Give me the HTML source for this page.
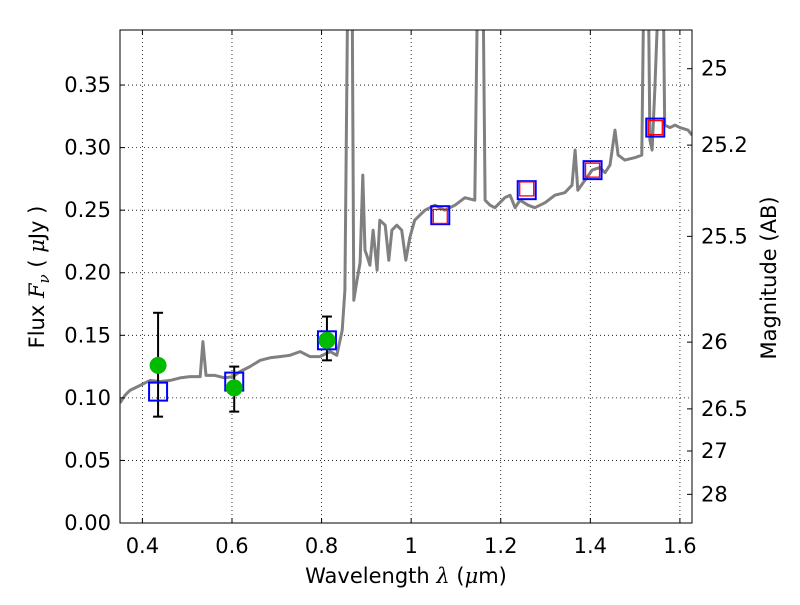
<!DOCTYPE html>
<html><head><meta charset="utf-8"><style>
body{margin:0;background:#fff}
svg text{font-family:"DejaVu Sans","Liberation Sans",sans-serif;fill:#000}
</style></head><body>
<svg id="chart" width="800" height="600" viewBox="0 0 800 600" xmlns="http://www.w3.org/2000/svg">
<rect width="800" height="600" fill="#fff"/>
<g id="grid"></g>
<g id="plot" clip-path="url(#clip)"></g>
<defs><clipPath id="clip"><rect x="120" y="30" width="572" height="493"/></clipPath></defs>
<rect x="120" y="30" width="572" height="493" fill="none" stroke="#000" stroke-width="1"/>
<g id="axes"></g>
<text x="406" y="583" font-size="21" text-anchor="middle">Wavelength  <tspan font-family="DejaVu Serif" font-style="italic">λ</tspan> (<tspan font-family="DejaVu Serif" font-style="italic">μ</tspan>m)</text>
<text transform="translate(44,277) rotate(-90)" font-size="21" text-anchor="middle">Flux  <tspan font-family="DejaVu Serif" font-style="italic">F<tspan font-size="15" dy="5">ν</tspan></tspan><tspan dy="-5">  ( </tspan><tspan font-family="DejaVu Serif" font-style="italic">μ</tspan>Jy )</text>
<text transform="translate(776,278) rotate(-90)" font-size="21" text-anchor="middle">Magnitude (AB)</text>
</svg>
<script>
const specWave=[0.350,0.361,0.372,0.395,0.417,0.439,0.462,0.484,0.506,0.529,0.535,0.542,0.562,0.584,0.602,0.618,0.640,0.663,0.685,0.707,0.729,0.752,0.774,0.796,0.819,0.834,0.846,0.852,0.859,0.868,0.872,0.879,0.886,0.892,0.897,0.901,0.908,0.915,0.924,0.930,0.942,0.950,0.957,0.968,0.979,0.988,0.997,1.008,1.031,1.053,1.075,1.098,1.120,1.142,1.149,1.160,1.165,1.176,1.187,1.209,1.221,1.232,1.243,1.261,1.276,1.299,1.321,1.343,1.359,1.366,1.372,1.388,1.404,1.421,1.433,1.444,1.455,1.462,1.477,1.500,1.515,1.520,1.529,1.533,1.538,1.544,1.555,1.562,1.566,1.578,1.589,1.600,1.618,1.627];
const specFlux=[0.096,0.102,0.106,0.110,0.114,0.113,0.114,0.116,0.117,0.117,0.145,0.118,0.118,0.116,0.117,0.121,0.125,0.130,0.132,0.133,0.134,0.137,0.133,0.133,0.137,0.134,0.154,0.186,0.45,0.45,0.178,0.194,0.208,0.278,0.218,0.214,0.206,0.234,0.202,0.242,0.238,0.210,0.234,0.238,0.234,0.210,0.228,0.242,0.250,0.254,0.250,0.254,0.260,0.258,0.45,0.45,0.258,0.254,0.252,0.260,0.262,0.252,0.258,0.254,0.252,0.256,0.262,0.264,0.270,0.298,0.266,0.274,0.282,0.284,0.280,0.286,0.314,0.294,0.290,0.292,0.294,0.45,0.45,0.306,0.298,0.346,0.45,0.45,0.318,0.316,0.318,0.316,0.314,0.310];
const photWave=[0.435,0.605,0.812];
const photFlux=[0.126,0.108,0.146];
const errLow=[0.085,0.089,0.130];
const errHigh=[0.168,0.125,0.165];
const modelWave=[0.435,0.605,0.812,1.065,1.258,1.405,1.545];
const modelFlux=[0.105,0.113,0.146,0.246,0.266,0.282,0.316];
const nirWave=[1.065,1.258,1.405,1.545];
const nirFlux=[0.245,0.267,0.282,0.316];
const xTicks=[0.4,0.6,0.8,1.0,1.2,1.4,1.6];
const xTickLabels=["0.4","0.6","0.8","1","1.2","1.4","1.6"];
const yTicks=[0,0.05,0.10,0.15,0.20,0.25,0.30,0.35];
const yTickLabels=["0.00","0.05","0.10","0.15","0.20","0.25","0.30","0.35"];
const magTicks=[25,25.2,25.5,26,26.5,27,28];
const magTickLabels=["25","25.2","25.5","26","26.5","27","28"];

const X0=120,X1=692,Y0=523,Y1=30,xmin=0.35,xmax=1.627,ymin=0,ymax=0.394;
const sx=v=>X0+(v-xmin)/(xmax-xmin)*(X1-X0);
const sy=v=>Y0-(v-ymin)/(ymax-ymin)*(Y0-Y1);
const NS="http://www.w3.org/2000/svg";
function mk(tag,attrs,parent){const e=document.createElementNS(NS,tag);for(const k in attrs)e.setAttribute(k,attrs[k]);parent.appendChild(e);return e;}
const grid=document.getElementById('grid'),plot=document.getElementById('plot'),axes=document.getElementById('axes');
xTicks.forEach((t,i)=>{
  const x=sx(t);
  const g=mk('line',{x1:x,x2:x,y1:Y1,y2:Y0,stroke:'#000','stroke-width':0.8,'stroke-dasharray':'1,3'},grid);
  
  
  const tk=mk('line',{x1:x,x2:x,y1:Y0,y2:Y0-5,stroke:'#000'},axes);
  
  
  const tk2=mk('line',{x1:x,x2:x,y1:Y1,y2:Y1+5,stroke:'#000'},axes);
  
  
  const l=mk('text',{x:x,y:553,'font-size':21,'text-anchor':'middle'},axes);
  l.textContent=xTickLabels[i];
  
  
});
yTicks.forEach((t,i)=>{
  const y=sy(t);
  if(t>0){const g=mk('line',{x1:X0,x2:X1,y1:y,y2:y,stroke:'#000','stroke-width':0.8,'stroke-dasharray':'1,3'},grid);
  
  }
  const tk=mk('line',{x1:X0,x2:X0+5,y1:y,y2:y,stroke:'#000'},axes);
  
  
  const l=mk('text',{x:111,y:y+7,'font-size':21,'text-anchor':'end'},axes);
  l.textContent=yTickLabels[i];
  
  
});
magTicks.forEach((m,i)=>{
  const y=sy(Math.pow(10,(23.9-m)/2.5));
  const tk=mk('line',{x1:X1,x2:X1-5,y1:y,y2:y,stroke:'#000'},axes);
  
  
  const l=mk('text',{x:701,y:y+7,'font-size':21,'text-anchor':'start'},axes);
  l.textContent=magTickLabels[i];
  
  
});
const pts=specWave.map((w,i)=>sx(w).toFixed(1)+','+sy(specFlux[i]).toFixed(1)).join(' ');
const sp=mk('polyline',{points:pts,fill:'none',stroke:'#808080','stroke-width':3,'stroke-linejoin':'round'},plot);


photWave.forEach((w,i)=>{
  const x=sx(w);
  const e=mk('g',{},plot);
  
  
  mk('line',{x1:x,x2:x,y1:sy(errLow[i]),y2:sy(errHigh[i]),stroke:'#000','stroke-width':2},e);
  mk('line',{x1:x-5,x2:x+5,y1:sy(errLow[i]),y2:sy(errLow[i]),stroke:'#000','stroke-width':2},e);
  mk('line',{x1:x-5,x2:x+5,y1:sy(errHigh[i]),y2:sy(errHigh[i]),stroke:'#000','stroke-width':2},e);
});
modelWave.forEach((w,i)=>{
  const r=mk('rect',{x:sx(w)-9,y:sy(modelFlux[i])-9,width:18,height:18,fill:'none',stroke:'#0000ff','stroke-width':2},plot);
  
  
});
nirWave.forEach((w,i)=>{
  const r=mk('rect',{x:sx(w)-7,y:sy(nirFlux[i])-7,width:14,height:14,fill:'none',stroke:'#ff0000','stroke-width':1.3},plot);
  
  
});
photWave.forEach((w,i)=>{
  const c=mk('circle',{cx:sx(w),cy:sy(photFlux[i]),r:8.5,fill:'#00bb00',stroke:'none'},plot);
  
  
});
</script>
</body></html>
